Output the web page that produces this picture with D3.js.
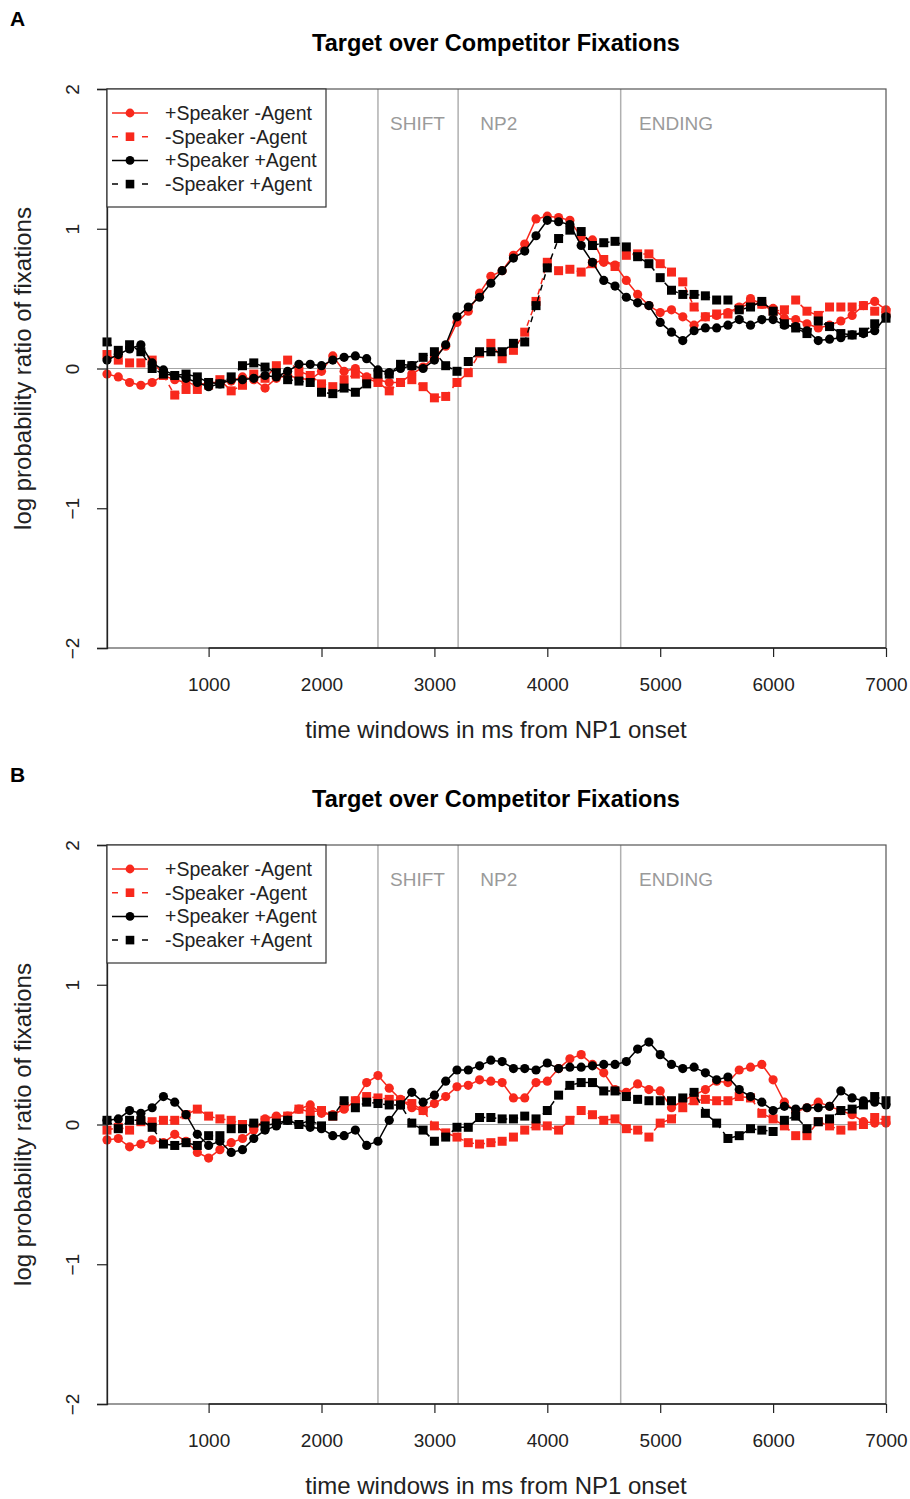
<!DOCTYPE html>
<html><head><meta charset="utf-8">
<script src="https://cdn.jsdelivr.net/npm/d3@7"></script>
<style>body{margin:0;background:#fff}svg{display:block}text{font-family:"Liberation Sans",Arial,Helvetica,sans-serif}</style>
</head><body>
<script>
// ---------- DATA ----------
const timesMs = [100,200,300,400,500,600,700,800,900,1000,1100,1200,1300,1400,1500,1600,1700,1800,1900,2000,
  2100,2200,2300,2400,2500,2600,2700,2800,2900,3000,3100,3200,3300,3400,3500,3600,3700,3800,3900,4000,
  4100,4200,4300,4400,4500,4600,4700,4800,4900,5000,5100,5200,5300,5400,5500,5600,5700,5800,5900,6000,
  6100,6200,6300,6400,6500,6600,6700,6800,6900,7000];

const seriesNames = ["+Speaker -Agent", "-Speaker -Agent", "+Speaker +Agent", "-Speaker +Agent"];

// Panel A
const panelA_spkNoAgent = [-0.04,-0.06,-0.10,-0.12,-0.10,-0.05,-0.08,-0.10,-0.12,-0.10,-0.10,-0.09,-0.06,-0.08,-0.14,-0.07,-0.05,-0.07,
  -0.08,-0.02,0.09,-0.02,0.00,-0.06,-0.08,-0.10,-0.10,-0.04,0.01,0.08,
  0.16,0.33,0.41,0.54,0.66,0.70,0.81,0.89,1.07,1.09,1.08,1.06,
  0.94,0.92,0.76,0.74,0.63,0.53,0.45,0.40,
  0.42,0.37,0.31,0.37,0.38,0.40,0.44,0.50,0.46,0.43,0.36,0.35,0.32,0.29,0.31,0.34,0.38,0.45,0.48,0.42];
const panelA_noSpkNoAgent = [0.10,0.06,0.04,0.04,0.06,-0.05,-0.19,-0.15,-0.15,-0.12,-0.08,-0.16,-0.12,-0.04,-0.07,0.02,0.06,-0.02,
  -0.05,-0.11,-0.13,-0.08,-0.04,-0.07,-0.10,-0.16,-0.10,-0.08,-0.13,-0.21,
  -0.20,-0.10,-0.03,0.11,0.18,0.07,0.13,0.26,0.48,0.76,0.70,0.71,
  0.69,0.75,0.78,0.73,0.81,0.82,0.82,0.75,
  0.69,0.62,0.44,0.37,0.39,0.39,0.43,0.47,0.46,0.41,0.42,0.49,0.41,0.38,0.44,0.44,0.44,0.45,0.41,0.40];
const panelA_spkAgent = [0.06,0.10,0.14,0.17,0.04,-0.01,-0.05,-0.07,-0.10,-0.13,-0.11,-0.08,-0.08,-0.07,-0.05,-0.06,-0.02,0.03,
  0.03,0.02,0.06,0.08,0.09,0.07,-0.01,-0.03,0.00,0.02,0.00,0.06,
  0.17,0.37,0.44,0.51,0.61,0.70,0.79,0.84,0.95,1.06,1.05,1.03,
  0.88,0.76,0.63,0.59,0.51,0.47,0.45,0.33,
  0.26,0.20,0.27,0.29,0.29,0.31,0.35,0.31,0.35,0.35,0.31,0.30,0.27,0.20,0.21,0.22,0.24,0.25,0.27,0.37];
const panelA_noSpkAgent = [0.19,0.13,0.17,0.12,0.00,-0.04,-0.05,-0.04,-0.06,-0.10,-0.11,-0.06,0.02,0.04,0.01,-0.03,-0.08,-0.09,
  -0.10,-0.17,-0.18,-0.14,-0.17,-0.11,-0.04,-0.04,0.03,0.02,0.08,0.12,
  0.02,-0.02,0.05,0.12,0.12,0.12,0.18,0.19,0.45,0.72,0.93,0.99,
  0.98,0.88,0.90,0.91,0.87,0.80,0.75,0.65,
  0.56,0.53,0.53,0.52,0.49,0.49,0.42,0.44,0.48,0.41,0.32,0.29,0.25,0.34,0.30,0.25,0.24,0.26,0.32,0.36];

// Panel B
const panelB_spkNoAgent = [-0.11,-0.10,-0.16,-0.14,-0.11,-0.13,-0.07,-0.12,-0.20,-0.24,-0.18,-0.13,-0.10,-0.04,0.04,0.06,0.06,0.11,
  0.14,0.08,0.07,0.11,0.17,0.30,0.35,0.26,0.18,0.12,0.10,0.15,
  0.20,0.27,0.28,0.32,0.31,0.30,0.19,0.19,0.30,0.31,0.40,0.47,
  0.50,0.43,0.37,0.25,0.23,0.29,0.25,0.24,
  0.12,0.17,0.21,0.25,0.31,0.30,0.39,0.41,0.43,0.32,0.16,0.09,0.12,0.16,0.13,0.10,0.07,0.02,0.01,0.01];
const panelB_noSpkNoAgent = [-0.04,-0.02,-0.04,0.02,0.02,0.03,0.03,0.07,0.11,0.06,0.04,0.03,0.00,-0.01,0.03,0.04,0.06,0.11,
  0.09,0.10,0.06,0.13,0.17,0.20,0.19,0.18,0.17,0.15,0.10,-0.01,
  -0.06,-0.09,-0.13,-0.14,-0.13,-0.12,-0.09,-0.04,-0.01,-0.01,-0.04,0.03,
  0.10,0.07,0.03,0.04,-0.03,-0.04,-0.09,0.01,
  0.04,0.12,0.17,0.18,0.17,0.17,0.20,0.19,0.08,0.04,-0.01,-0.08,-0.08,0.02,-0.01,-0.04,-0.01,0.00,0.05,0.03];
const panelB_spkAgent = [0.03,0.04,0.10,0.08,0.12,0.20,0.16,0.07,-0.07,-0.15,-0.12,-0.20,-0.18,-0.10,-0.04,-0.01,0.03,0.00,
  -0.02,-0.03,-0.08,-0.08,-0.04,-0.15,-0.12,0.03,0.14,0.23,0.16,0.21,
  0.31,0.39,0.39,0.42,0.46,0.45,0.40,0.40,0.39,0.44,0.40,0.41,
  0.41,0.42,0.43,0.43,0.45,0.54,0.59,0.50,
  0.43,0.40,0.41,0.37,0.32,0.34,0.25,0.20,0.16,0.10,0.13,0.11,0.12,0.12,0.13,0.24,0.19,0.17,0.16,0.14];
const panelB_noSpkAgent = [0.03,-0.03,0.03,0.03,-0.02,-0.14,-0.15,-0.13,-0.15,-0.08,-0.08,-0.03,-0.03,0.01,-0.01,0.01,0.03,0.00,
  0.03,-0.01,0.06,0.17,0.12,0.16,0.15,0.14,0.14,0.01,-0.04,-0.12,
  -0.09,-0.02,-0.02,0.05,0.05,0.04,0.04,0.06,0.04,0.10,0.21,0.28,
  0.30,0.30,0.24,0.24,0.20,0.18,0.17,0.17,
  0.17,0.19,0.23,0.08,0.01,-0.10,-0.08,-0.03,-0.04,-0.05,0.03,0.06,-0.03,0.02,0.04,0.10,0.11,0.14,0.20,0.17];

const xTicks = [1000,2000,3000,4000,5000,6000,7000];
const yTicks = [-2,-1,0,1,2];
const regionBounds = [2500,3210,4650];
const regionLabels = ["SHIFT","NP2","ENDING"];
const regionLabelAt = [2850,3570,5140];
const panelLetters = ["A","B"];
const chartTitle = "Target over Competitor Fixations";
const xAxisTitle = "time windows in ms from NP1 onset";
const yAxisTitle = "log probability ratio of fixations";

// ---------- STYLE ----------
const RED = "#f8281c", BLACK = "#000";
const seriesStyle = [
  {color: RED, shape: "circle", dash: null},
  {color: RED, shape: "square", dash: "6,5"},
  {color: BLACK, shape: "circle", dash: null},
  {color: BLACK, shape: "square", dash: "6,5"}
];

const W = 910, H = 1499;
const svg = d3.select("body").append("svg").attr("width", W).attr("height", H);
const x = d3.scaleLinear().domain([100, 7000]).range([107, 886]);

function drawPanel(top, letter, series) {
  const bottom = top + 559;
  const y = d3.scaleLinear().domain([-2, 2]).range([bottom, top]);
  const g = svg.append("g");

  g.append("text").attr("x", 10).attr("y", top - 63).attr("font-size", 21).attr("font-weight", "bold").text(letter);
  g.append("text").attr("x", 496).attr("y", top - 38).attr("text-anchor", "middle")
    .attr("font-size", 23.5).attr("font-weight", "bold").text(chartTitle);

  // reference lines
  g.append("line").attr("x1", x.range()[0]).attr("x2", x.range()[1]).attr("y1", y(0)).attr("y2", y(0))
    .attr("stroke", "#a6a6a6").attr("stroke-width", 1.2);
  regionBounds.forEach(b => {
    g.append("line").attr("x1", x(b)).attr("x2", x(b)).attr("y1", top).attr("y2", bottom)
      .attr("stroke", "#b0b0b0").attr("stroke-width", 1.5);
  });
  regionLabels.forEach((lab, i) => {
    g.append("text").attr("x", x(regionLabelAt[i])).attr("y", y(1.705)).attr("text-anchor", "middle")
      .attr("font-size", 19).attr("fill", "#9a9a9a").text(lab);
  });

  // series
  series.forEach((vals, si) => {
    const st = seriesStyle[si];
    const line = d3.line().x((d, i) => x(timesMs[i])).y(d => y(d));
    g.append("path").attr("d", line(vals)).attr("fill", "none").attr("stroke", st.color)
      .attr("stroke-width", 1.5).attr("stroke-dasharray", st.dash);
    if (st.shape === "circle") {
      g.selectAll(null).data(vals).enter().append("circle")
        .attr("cx", (d, i) => x(timesMs[i])).attr("cy", d => y(d)).attr("r", 4.6).attr("fill", st.color);
    } else {
      g.selectAll(null).data(vals).enter().append("rect")
        .attr("x", (d, i) => x(timesMs[i]) - 4.5).attr("y", d => y(d) - 4.5)
        .attr("width", 9).attr("height", 9).attr("fill", st.color);
    }
  });

  // box
  g.append("rect").attr("x", 107).attr("y", top).attr("width", 886 - 107).attr("height", bottom - top)
    .attr("fill", "none").attr("stroke", "#555").attr("stroke-width", 1.2);

  // x axis
  const xa = g.append("g").attr("transform", `translate(0,${bottom})`)
    .call(d3.axisBottom(x).tickValues(xTicks).tickSize(9).tickPadding(21).tickFormat(d3.format("d")));
  xa.select(".domain").remove();
  xa.append("line").attr("x1", x(xTicks[0])).attr("x2", x(xTicks[xTicks.length - 1]))
    .attr("stroke", "#222").attr("stroke-width", 1.3);
  xa.selectAll(".tick line").attr("stroke", "#222").attr("stroke-width", 1.2);
  xa.selectAll("text").attr("font-size", 19).attr("fill", "#222")
    .attr("font-family", "Liberation Sans, Arial, sans-serif");

  // y axis
  const ya = g.append("g").attr("transform", "translate(107,0)")
    .call(d3.axisLeft(y).tickValues(yTicks).tickSize(10).tickFormat(d3.format("d")));
  ya.select(".domain").attr("stroke", "#222").attr("stroke-width", 1.3);
  ya.selectAll(".tick line").attr("stroke", "#222").attr("stroke-width", 1.2);
  ya.selectAll("text").attr("x", 0).attr("y", -28).attr("dy", 0).attr("text-anchor", "middle")
    .attr("transform", "rotate(-90)").attr("font-size", 19).attr("fill", "#222")
    .attr("font-family", "Liberation Sans, Arial, sans-serif");

  // axis titles
  g.append("text").attr("x", 496).attr("y", bottom + 90).attr("text-anchor", "middle")
    .attr("font-size", 24).attr("fill", "#222").text(xAxisTitle);
  g.append("text").attr("transform", `translate(31,${(top + bottom) / 2}) rotate(-90)`)
    .attr("text-anchor", "middle").attr("font-size", 24).attr("fill", "#222").text(yAxisTitle);

  // legend
  const lg = g.append("g");
  lg.append("rect").attr("x", 107).attr("y", top).attr("width", 219).attr("height", 118)
    .attr("fill", "#fff").attr("stroke", "#333").attr("stroke-width", 1.2);
  seriesNames.forEach((name, i) => {
    const st = seriesStyle[i];
    const yy = top + 24 + i * 23.7;
    lg.append("line").attr("x1", 112).attr("x2", 148).attr("y1", yy).attr("y2", yy)
      .attr("stroke", st.color).attr("stroke-width", 1.5).attr("stroke-dasharray", st.dash ? "6,24" : null);
    if (st.shape === "circle") lg.append("circle").attr("cx", 130).attr("cy", yy).attr("r", 4.4).attr("fill", st.color);
    else lg.append("rect").attr("x", 125.7).attr("y", yy - 4.3).attr("width", 8.6).attr("height", 8.6).attr("fill", st.color);
    lg.append("text").attr("x", 165).attr("y", yy + 7).attr("font-size", 19.5).attr("fill", "#222").text(name);
  });
}

drawPanel(89, panelLetters[0], [panelA_spkNoAgent, panelA_noSpkNoAgent, panelA_spkAgent, panelA_noSpkAgent]);
drawPanel(845, panelLetters[1], [panelB_spkNoAgent, panelB_noSpkNoAgent, panelB_spkAgent, panelB_noSpkAgent]);
</script>
</body></html>
